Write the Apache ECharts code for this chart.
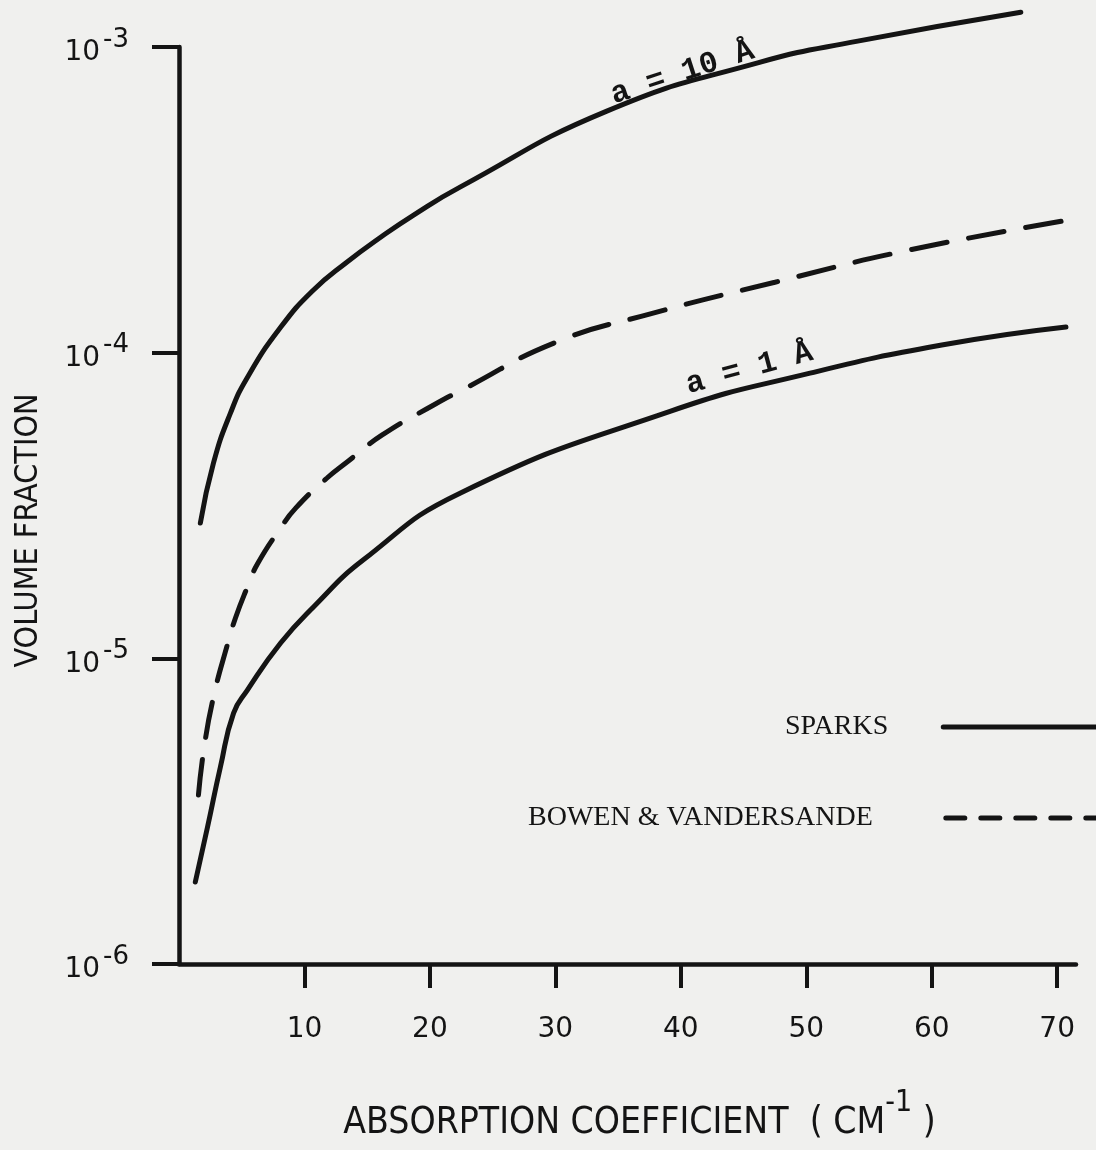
<!DOCTYPE html>
<html>
<head>
<meta charset="utf-8">
<script src="https://cdn.jsdelivr.net/npm/echarts@6/dist/echarts.min.js"></script>
<style>
html,body{margin:0;padding:0;background:#f0f0ee;}
#chart{width:1096px;height:1150px;}
</style>
</head>
<body>
<div id="chart"></div>
<script>
// ---- data ----
const xTickValues = [10, 20, 30, 40, 50, 60, 70];

// SPARKS, a = 10 Å
const sparks10_x = [1.7, 2.75, 4.1, 5.45, 8.1, 10.7, 13.4, 16.1, 18.7, 22.4, 34.1, 46.2, 54.1, 67.1];
const sparks10_y = [2.77e-5, 4.36e-5, 6.34e-5, 8.3e-5, 1.21e-4, 1.60e-4, 1.98e-4, 2.39e-4, 2.82e-4, 3.48e-4, 6.17e-4, 8.89e-4, 1.045e-3, 1.30e-3];

// BOWEN & VANDERSANDE
const bowen_x = [1.55, 2.0, 2.75, 3.85, 4.5, 5.45, 6.25, 8.1, 9.3, 11.8, 13.4, 16.2, 20.3, 22.7, 30.0, 37.5, 47.5, 58.2, 70.9];
const bowen_y = [3.57e-6, 5.1e-6, 7.47e-6, 1.106e-5, 1.355e-5, 1.71e-5, 2.035e-5, 2.67e-5, 3.10e-5, 3.89e-5, 4.39e-5, 5.38e-5, 6.74e-5, 7.60e-5, 1.08e-4, 1.337e-4, 1.70e-4, 2.166e-4, 2.715e-4];

// SPARKS, a = 1 Å
const sparks1_x = [1.3, 2.27, 3.3, 4.35, 5.45, 8.1, 10.7, 14.7, 22.4, 39.2, 50.3, 60.8, 70.7];
const sparks1_y = [1.855e-6, 2.80e-6, 4.41e-6, 6.62e-6, 7.87e-6, 1.122e-5, 1.47e-5, 2.10e-5, 3.47e-5, 6.44e-5, 8.57e-5, 1.059e-4, 1.213e-4];

const curveLabel10 = 'a = 10 Å';
const curveLabel1 = 'a = 1 Å';
const label10At = [40.4, 7.6e-4];
const label1At = [45.9, 7.6e-5];

// ---- chart ----
const ink = '#141414';
const zip = (xs, ys) => xs.map((x, i) => [x, ys[i]]);
const chart = echarts.init(document.getElementById('chart'), null, {renderer: 'canvas'});

const serifFont = "'Liberation Serif', 'DejaVu Serif', serif";
const narrowFont = "'Liberation Sans Narrow', 'DejaVu Sans Condensed', 'DejaVu Sans', sans-serif";
const tickFont = "'DejaVu Sans', sans-serif";
const monoFont = "'Liberation Mono', 'DejaVu Sans Mono', monospace";

const option = {
  backgroundColor: '#f0f0ee',
  animation: false,
  grid: {left: 179, right: 20, top: 47, bottom: 186},
  xAxis: {
    type: 'value',
    min: 0,
    max: 71.5,
    interval: 10,
    axisLine: {show: true, lineStyle: {color: ink, width: 4.5}},
    axisTick: {show: true, length: 24, customValues: xTickValues, lineStyle: {color: ink, width: 4}},
    axisLabel: {show: true, customValues: xTickValues, margin: 52, fontSize: 28, fontFamily: tickFont, color: ink},
    splitLine: {show: false},
    name: '{t|ABSORPTION COEFFICIENT  ( CM}{s|-1}{t| )}',
    nameLocation: 'middle',
    nameGap: 124,
    nameTextStyle: {
      color: ink,
      padding: [0, 0, 0, 24],
      rich: {
        t: {fontSize: 37, fontFamily: narrowFont, color: ink, lineHeight: 54, verticalAlign: 'bottom'},
        s: {fontSize: 30, fontFamily: narrowFont, color: ink, verticalAlign: 'top'}
      }
    }
  },
  yAxis: {
    type: 'log',
    logBase: 10,
    min: 1e-6,
    max: 1e-3,
    axisLine: {show: true, lineStyle: {color: ink, width: 4.5}},
    axisTick: {show: true, length: 27, lineStyle: {color: ink, width: 4}},
    minorTick: {show: false},
    splitLine: {show: false},
    axisLabel: {
      show: true,
      margin: 50,
      formatter: function (v) {
        const e = Math.round(Math.log10(v));
        return '{b|10}{s|' + e + '}';
      },
      rich: {
        b: {fontSize: 28, fontFamily: tickFont, color: ink, lineHeight: 40, verticalAlign: 'bottom'},
        s: {fontSize: 26, fontFamily: tickFont, color: ink, verticalAlign: 'top', padding: [0, 0, 0, 3]}
      }
    },
    name: 'VOLUME FRACTION',
    nameLocation: 'middle',
    nameRotate: 90,
    nameGap: 134,
    nameTextStyle: {fontSize: 32, fontFamily: narrowFont, color: ink, padding: [0, 50, 0, 0]}
  },
  legend: [
    {
      data: ['SPARKS'],
      left: 785,
      top: 713,
      padding: 0,
      align: 'right',
      itemWidth: 160,
      itemHeight: 20,
      selectedMode: false,
      itemStyle: {opacity: 0},
      lineStyle: {color: ink, width: 5, opacity: 1},
      textStyle: {fontFamily: serifFont, fontSize: 28, color: ink, padding: [0, 50, 0, 0]}
    },
    {
      data: ['BOWEN & VANDERSANDE'],
      left: 528,
      top: 804,
      padding: 0,
      align: 'right',
      itemWidth: 150,
      itemHeight: 20,
      selectedMode: false,
      itemStyle: {opacity: 0},
      lineStyle: {color: ink, width: 5, opacity: 1, type: [19, 16], cap: 'round'},
      textStyle: {fontFamily: serifFont, fontSize: 28, color: ink, padding: [0, 68, 0, 0]}
    }
  ],
  series: [
    {
      name: 'SPARKS',
      type: 'line',
      data: zip(sparks10_x, sparks10_y),
      smooth: 0.5,
      symbol: 'none',
      showSymbol: false,
      clip: false,
      lineStyle: {color: ink, width: 5, cap: 'round'},
      itemStyle: {color: ink},
      markPoint: {
        symbol: 'circle',
        symbolSize: 0,
        silent: true,
        label: {show: true, position: 'inside', formatter: curveLabel10, rotate: 18, offset: [0, -11],
                fontFamily: monoFont, fontWeight: 'bold', fontSize: 31, color: ink},
        data: [{coord: label10At}]
      }
    },
    {
      name: 'BOWEN & VANDERSANDE',
      type: 'line',
      data: zip(bowen_x, bowen_y),
      smooth: 0.5,
      symbol: 'none',
      showSymbol: false,
      clip: false,
      lineStyle: {color: ink, width: 5, type: [36, 22], cap: 'round'},
      itemStyle: {color: ink}
    },
    {
      name: 'SPARKS',
      type: 'line',
      data: zip(sparks1_x, sparks1_y),
      smooth: 0.5,
      symbol: 'none',
      showSymbol: false,
      clip: false,
      lineStyle: {color: ink, width: 5, cap: 'round'},
      itemStyle: {color: ink},
      markPoint: {
        symbol: 'circle',
        symbolSize: 0,
        silent: true,
        label: {show: true, position: 'inside', formatter: curveLabel1, rotate: 15, offset: [0, -21],
                fontFamily: monoFont, fontWeight: 'bold', fontSize: 31, color: ink},
        data: [{coord: label1At}]
      }
    }
  ]
};
chart.setOption(option);
</script>
</body>
</html>
